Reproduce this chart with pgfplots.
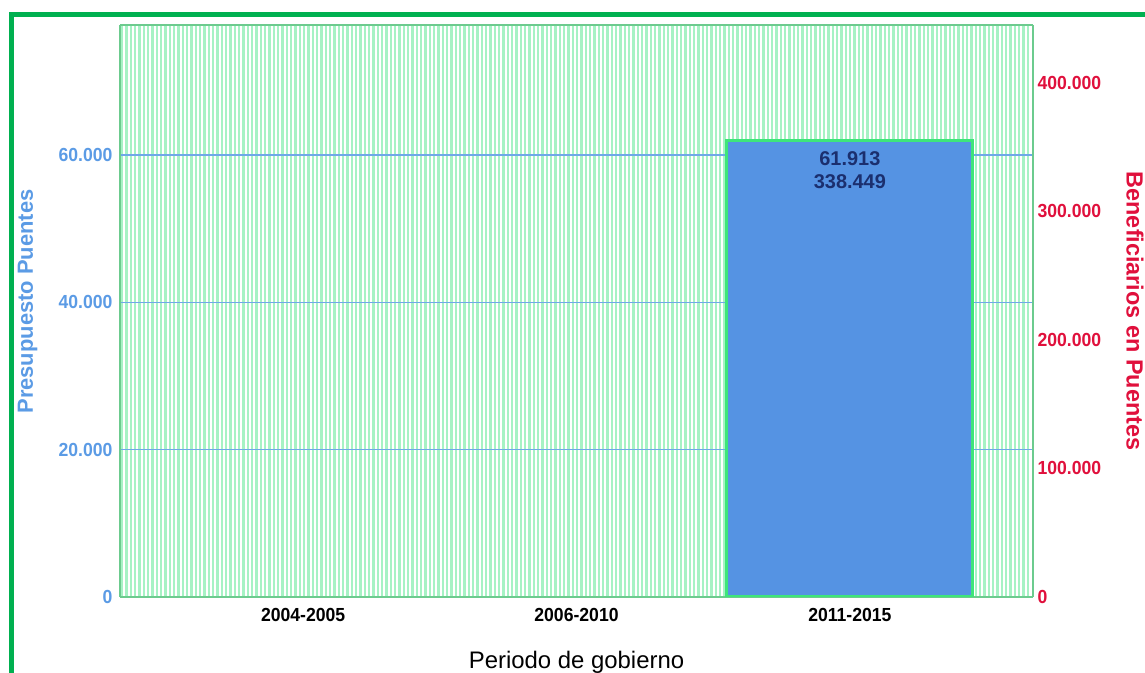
\documentclass[border=0pt]{standalone}
\usepackage{pgfplots}
\pgfplotsset{compat=1.18}
\usepackage{fontspec}
\setmainfont{Liberation Sans}
\newfontfamily\tickfont[FakeStretch=0.93]{Liberation Sans}
\definecolor{framegreen}{HTML}{00B050}
\definecolor{hatchgreen}{HTML}{A6F2C4}
\definecolor{axisgreen}{HTML}{6CCB8E}
\definecolor{leftblue}{HTML}{5B9BE5}
\definecolor{rightred}{HTML}{E0103C}
\definecolor{barblue}{HTML}{5593E3}
\definecolor{baredge}{HTML}{3EE57A}
\definecolor{navy}{HTML}{1B2F6E}
\definecolor{gridblue}{HTML}{6FA8E8}
\begin{document}
\begin{tikzpicture}[x=1bp,y=1bp]
\useasboundingbox (0,0) rectangle (1145,673);
\foreach \i in {0,...,209} \fill[hatchgreen] ({120+\i*4.3333+0.9},76) rectangle ++(2.4,572);
\begin{axis}[
  at={(120bp,76bp)}, anchor=south west, scale only axis,
  width=913bp, height=572bp,
  xmin=-0.67, xmax=2.67, ymin=0, ymax=77650,
  axis y line*=left,
  axis line style={axisgreen, line width=1.5bp},
  major tick length=0pt,
  xtick={0,1,2}, xticklabels={2004-2005,2006-2010,2011-2015},
  ytick={0,20000,40000,60000},
  scaled y ticks=false,
  /pgf/number format/fixed,
  /pgf/number format/1000 sep={.},
  /pgf/number format/assume math mode=true,
  ymajorgrids, grid style={gridblue, line width=1.3bp},
  yticklabel style={font=\tickfont\fontsize{19}{22}\selectfont\bfseries, text=leftblue, xshift=-4bp},
  xticklabel style={font=\tickfont\fontsize{19}{22}\selectfont\bfseries, text=black, yshift=-8bp},
  xlabel={Periodo de gobierno},
  xlabel style={at={(axis description cs:0.5,-0.1136)}, anchor=center, font=\fontsize{24}{28}\selectfont},
  ylabel={Presupuesto Puentes},
  ylabel style={at={(axis description cs:-0.1013,0.5166)}, anchor=center, font=\fontsize{22}{26}\selectfont\bfseries, text=leftblue},
]
\addplot[ybar, bar width=246bp, fill=barblue, draw=baredge, line width=3bp,
  nodes near coords={61.913\\338.449},
  every node near coord/.append style={align=center, anchor=north, inner sep=2bp, yshift=-7bp, font=\fontsize{20}{23}\selectfont\bfseries, text=navy}]
  coordinates {(2,61913)};
\end{axis}
\begin{axis}[
  at={(120bp,76bp)}, anchor=south west, scale only axis,
  width=913bp, height=572bp,
  xmin=-0.67, xmax=2.67, ymin=0, ymax=445000,
  axis y line*=right, axis x line=none,
  axis line style={axisgreen, line width=1.5bp},
  major tick length=0pt,
  ytick={0,100000,200000,300000,400000},
  scaled y ticks=false,
  /pgf/number format/fixed,
  /pgf/number format/1000 sep={.},
  /pgf/number format/assume math mode=true,
  yticklabel style={font=\tickfont\fontsize{19}{22}\selectfont\bfseries, text=rightred, xshift=1bp},
  ylabel={Beneficiarios en Puentes},
  ylabel style={at={(axis description cs:1.1117,0.5)}, anchor=center, rotate=180, font=\fontsize{23.5}{27}\selectfont\bfseries, text=rightred},
]
\addplot[draw=none, forget plot] coordinates {(2,338449)};
\end{axis}
\draw[framegreen, line width=5bp, line join=miter] (11,0) -- (11,658.5) -- (1145,658.5);
\end{tikzpicture}
\end{document}
